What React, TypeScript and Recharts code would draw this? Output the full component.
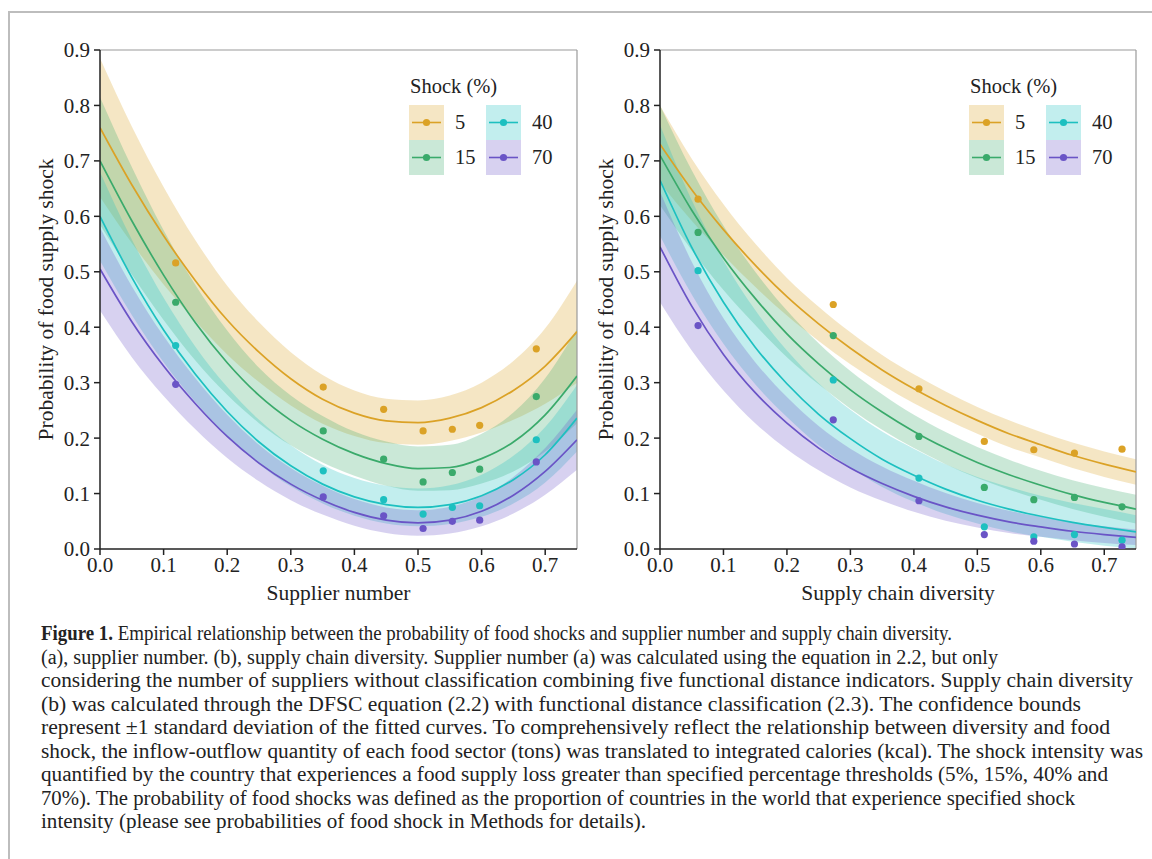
import React from "react";
import {
  ComposedChart,
  Area,
  Line,
  Scatter,
  XAxis,
  YAxis,
  ReferenceLine,
  Legend,
} from "recharts";

const SERIF = '"Liberation Serif", "Times New Roman", serif';

// shock thresholds, in legend order
const SHOCKS = ["5", "15", "40", "70"];
const COLORS = ["#dba226", "#3aaa6b", "#1dc0c0", "#6a54c6"];
const BAND_OPACITY = 0.27;

const X_TICKS = [0, 0.1, 0.2, 0.3, 0.4, 0.5, 0.6, 0.7];
const Y_TICKS = [0, 0.1, 0.2, 0.3, 0.4, 0.5, 0.6, 0.7, 0.8, 0.9];

const GRID_X = [0, 0.05, 0.1, 0.15, 0.2, 0.25, 0.3, 0.35, 0.4, 0.45, 0.5, 0.55, 0.6, 0.65, 0.7, 0.75];

// (a) supplier number: fitted curve, band upper, band lower (rows = 5, 15, 40, 70)
const SUP_FIT = [
  [0.760, 0.657, 0.565, 0.484, 0.413, 0.355, 0.307, 0.270, 0.245, 0.231, 0.228, 0.236, 0.255, 0.286, 0.330, 0.392],
  [0.700, 0.592, 0.494, 0.408, 0.336, 0.277, 0.232, 0.198, 0.172, 0.154, 0.145, 0.147, 0.163, 0.193, 0.242, 0.312],
  [0.600, 0.490, 0.395, 0.315, 0.248, 0.193, 0.150, 0.117, 0.094, 0.080, 0.075, 0.080, 0.096, 0.125, 0.170, 0.236],
  [0.505, 0.410, 0.330, 0.262, 0.203, 0.155, 0.117, 0.088, 0.066, 0.052, 0.047, 0.052, 0.068, 0.097, 0.140, 0.197],
];
const SUP_UPPER = [
  [0.885, 0.762, 0.653, 0.557, 0.475, 0.409, 0.355, 0.314, 0.286, 0.271, 0.268, 0.277, 0.300, 0.339, 0.398, 0.484],
  [0.815, 0.689, 0.575, 0.476, 0.394, 0.327, 0.277, 0.240, 0.212, 0.194, 0.185, 0.188, 0.208, 0.246, 0.308, 0.397],
  [0.680, 0.558, 0.453, 0.365, 0.292, 0.233, 0.187, 0.152, 0.128, 0.114, 0.109, 0.115, 0.134, 0.168, 0.220, 0.296],
  [0.580, 0.474, 0.384, 0.308, 0.242, 0.188, 0.146, 0.114, 0.090, 0.075, 0.070, 0.076, 0.095, 0.130, 0.182, 0.251],
];
const SUP_LOWER = [
  [0.635, 0.552, 0.477, 0.411, 0.351, 0.301, 0.259, 0.226, 0.204, 0.191, 0.188, 0.195, 0.210, 0.233, 0.262, 0.300],
  [0.585, 0.495, 0.413, 0.340, 0.278, 0.227, 0.187, 0.156, 0.132, 0.114, 0.105, 0.106, 0.118, 0.140, 0.176, 0.227],
  [0.520, 0.422, 0.337, 0.265, 0.204, 0.153, 0.113, 0.082, 0.060, 0.046, 0.041, 0.045, 0.058, 0.082, 0.120, 0.176],
  [0.430, 0.346, 0.276, 0.216, 0.164, 0.122, 0.088, 0.062, 0.042, 0.029, 0.024, 0.028, 0.041, 0.064, 0.098, 0.143],
];
const SUP_PTS_X = [0.119, 0.351, 0.446, 0.508, 0.554, 0.597, 0.686];
const SUP_PTS_Y = [
  [0.516, 0.292, 0.252, 0.213, 0.216, 0.223, 0.361],
  [0.445, 0.213, 0.162, 0.121, 0.138, 0.144, 0.275],
  [0.367, 0.141, 0.089, 0.063, 0.075, 0.078, 0.197],
  [0.297, 0.094, 0.060, 0.037, 0.050, 0.052, 0.157],
];

// (b) supply chain diversity
const DIV_FIT = [
  [0.730, 0.648, 0.576, 0.512, 0.455, 0.406, 0.362, 0.323, 0.289, 0.259, 0.232, 0.208, 0.188, 0.169, 0.153, 0.139],
  [0.710, 0.611, 0.525, 0.452, 0.388, 0.334, 0.287, 0.247, 0.212, 0.182, 0.156, 0.134, 0.115, 0.098, 0.084, 0.072],
  [0.665, 0.544, 0.445, 0.364, 0.298, 0.243, 0.199, 0.162, 0.133, 0.108, 0.088, 0.072, 0.059, 0.048, 0.039, 0.031],
  [0.545, 0.438, 0.351, 0.282, 0.227, 0.182, 0.146, 0.118, 0.095, 0.076, 0.061, 0.049, 0.040, 0.032, 0.026, 0.021],
];
const DIV_UPPER = [
  [0.800, 0.704, 0.622, 0.551, 0.489, 0.437, 0.391, 0.350, 0.315, 0.284, 0.256, 0.232, 0.211, 0.192, 0.176, 0.162],
  [0.800, 0.683, 0.583, 0.500, 0.430, 0.371, 0.321, 0.279, 0.242, 0.211, 0.184, 0.161, 0.141, 0.124, 0.110, 0.098],
  [0.765, 0.629, 0.520, 0.431, 0.358, 0.299, 0.251, 0.212, 0.181, 0.153, 0.130, 0.112, 0.096, 0.083, 0.072, 0.061],
  [0.645, 0.518, 0.416, 0.337, 0.274, 0.222, 0.181, 0.149, 0.123, 0.101, 0.083, 0.069, 0.058, 0.048, 0.041, 0.035],
];
const DIV_LOWER = [
  [0.660, 0.592, 0.530, 0.473, 0.421, 0.375, 0.333, 0.296, 0.263, 0.234, 0.208, 0.184, 0.165, 0.146, 0.130, 0.116],
  [0.620, 0.539, 0.467, 0.404, 0.346, 0.297, 0.253, 0.215, 0.182, 0.153, 0.128, 0.107, 0.089, 0.072, 0.058, 0.046],
  [0.565, 0.459, 0.370, 0.297, 0.238, 0.187, 0.147, 0.112, 0.085, 0.063, 0.046, 0.032, 0.022, 0.013, 0.006, 0.001],
  [0.445, 0.358, 0.286, 0.227, 0.180, 0.142, 0.111, 0.087, 0.067, 0.051, 0.039, 0.029, 0.022, 0.016, 0.011, 0.007],
];
const DIV_PTS_X = [0.060, 0.273, 0.408, 0.511, 0.589, 0.653, 0.728];
const DIV_PTS_Y = [
  [0.631, 0.441, 0.289, 0.194, 0.179, 0.173, 0.180],
  [0.571, 0.385, 0.203, 0.111, 0.089, 0.093, 0.076],
  [0.502, 0.305, 0.128, 0.040, 0.022, 0.026, 0.016],
  [0.403, 0.233, 0.087, 0.026, 0.014, 0.009, 0.004],
];

const CAPTION_LEAD = "Figure 1.";
const CAPTION = [
  " Empirical relationship between the probability of food shocks and supplier number and supply chain diversity.",
  "(a), supplier number. (b), supply chain diversity. Supplier number (a) was calculated using the equation in 2.2, but only",
  "considering the number of suppliers without classification combining five functional distance indicators. Supply chain diversity",
  "(b) was calculated through the DFSC equation (2.2) with functional distance classification (2.3). The confidence bounds",
  "represent \u00b11 standard deviation of the fitted curves. To comprehensively reflect the relationship between diversity and food",
  "shock, the inflow-outflow quantity of each food sector (tons) was translated to integrated calories (kcal). The shock intensity was",
  "quantified by the country that experiences a food supply loss greater than specified percentage thresholds (5%, 15%, 40% and",
  "70%). The probability of food shocks was defined as the proportion of countries in the world that experience specified shock",
  "intensity (please see probabilities of food shock in Methods for details).",
];
// right edge of each caption line in the page
const CAPTION_RIGHT = [952, 998, 1133, 1081, 1110, 1143, 1108, 1075, 646];

function buildRows(fit: number[][], upper: number[][], lower: number[][]) {
  return GRID_X.map((x, i) => {
    const row: Record<string, any> = { x };
    SHOCKS.forEach((_, s) => {
      row[`f${s}`] = fit[s][i];
      row[`b${s}`] = [lower[s][i], upper[s][i]];
    });
    return row;
  });
}

function ShockLegend() {
  return (
    <div style={{ fontFamily: SERIF, color: "#222", width: 160 }}>
      <div style={{ fontSize: 20.5, lineHeight: "22px", height: 29.5, paddingLeft: 1 }}>Shock (%)</div>
      <div style={{ display: "grid", gridTemplateColumns: "77px 70px", gridAutoRows: "35px" }}>
        {[0, 2, 1, 3].map((s) => (
          <div key={s} style={{ display: "flex", alignItems: "center" }}>
            <svg width={35} height={35} style={{ display: "block" }}>
              <rect x={0} y={0} width={35} height={35} fill={COLORS[s]} fillOpacity={BAND_OPACITY} />
              <line x1={3} x2={32} y1={17.5} y2={17.5} stroke={COLORS[s]} strokeWidth={1.6} />
              <circle cx={17.5} cy={17.5} r={3.6} fill={COLORS[s]} />
            </svg>
            <span style={{ marginLeft: 11, fontSize: 20.5 }}>{SHOCKS[s]}</span>
          </div>
        ))}
      </div>
    </div>
  );
}

interface PanelProps {
  left: number;
  xLabel: string;
  fit: number[][];
  upper: number[][];
  lower: number[][];
  ptsX: number[];
  ptsY: number[][];
  marginRight: number;
}

function Panel({ left, xLabel, fit, upper, lower, ptsX, ptsY, marginRight }: PanelProps) {
  const rows = buildRows(fit, upper, lower);
  const tick = { fill: "#222", fontSize: 21, fontFamily: SERIF };
  return (
    <div style={{ position: "absolute", left, top: 0 }}>
      <ComposedChart
        width={600}
        height={620}
        data={rows}
        margin={{ top: 50, right: marginRight, bottom: 11, left: 40 }}
      >
        <XAxis
          dataKey="x"
          type="number"
          domain={[0, 0.75]}
          ticks={X_TICKS}
          tickFormatter={(v) => v.toFixed(1)}
          tick={tick}
          tickSize={6}
          tickMargin={2}
          height={60}
          stroke="#222"
          strokeWidth={1.5}
          allowDataOverflow
          label={{
            value: xLabel,
            position: "insideBottom",
            offset: 9,
            fill: "#222",
            fontSize: 21.5,
            fontFamily: SERIF,
          }}
        />
        <YAxis
          type="number"
          domain={[0, 0.9]}
          ticks={Y_TICKS}
          tickFormatter={(v) => v.toFixed(1)}
          tick={tick}
          tickSize={6}
          tickMargin={4}
          width={60}
          stroke="#222"
          strokeWidth={1.5}
          allowDataOverflow
          label={{
            value: "Probability of food supply shock",
            angle: -90,
            position: "insideLeft",
            offset: 5,
            fill: "#222",
            fontSize: 21.5,
            fontFamily: SERIF,
            style: { textAnchor: "middle" },
          }}
        />
        <ReferenceLine y={0.9} stroke="#9a9a9a" strokeWidth={1.2} />
        <ReferenceLine x={0.75} stroke="#9a9a9a" strokeWidth={1.2} />
        {SHOCKS.map((_, s) => (
          <Area
            key={`band${s}`}
            dataKey={`b${s}`}
            type="monotone"
            stroke="none"
            fill={COLORS[s]}
            fillOpacity={BAND_OPACITY}
            isAnimationActive={false}
            activeDot={false}
          />
        ))}
        {SHOCKS.map((_, s) => (
          <Line
            key={`fit${s}`}
            dataKey={`f${s}`}
            type="monotone"
            stroke={COLORS[s]}
            strokeWidth={1.7}
            dot={false}
            activeDot={false}
            isAnimationActive={false}
          />
        ))}
        {SHOCKS.map((_, s) => (
          <Scatter
            key={`pts${s}`}
            data={ptsX.map((x, i) => ({ x, y: ptsY[s][i] }))}
            dataKey="y"
            fill={COLORS[s]}
            isAnimationActive={false}
            shape={(p: any) => <circle cx={p.cx} cy={p.cy} r={3.6} fill={COLORS[s]} />}
          />
        ))}
        <Legend
          layout="vertical"
          align="center"
          verticalAlign="middle"
          content={() => <ShockLegend />}
          wrapperStyle={{ left: 409, top: 75, width: 160, height: "auto" }}
        />
      </ComposedChart>
    </div>
  );
}

export default function App() {
  return (
    <div
      style={{
        position: "fixed",
        left: 0,
        top: 0,
        width: 1152,
        height: 859,
        overflow: "hidden",
        background: "#fff",
      }}
    >
      <div
        style={{
          position: "absolute",
          left: 7.5,
          top: 10.5,
          width: 1300,
          height: 1000,
          borderTop: "2px solid #bdbdbd",
          borderLeft: "2px solid #bdbdbd",
        }}
      />
      <Panel
        left={0}
        xLabel="Supplier number"
        fit={SUP_FIT}
        upper={SUP_UPPER}
        lower={SUP_LOWER}
        ptsX={SUP_PTS_X}
        ptsY={SUP_PTS_Y}
        marginRight={23}
      />
      <Panel
        left={560}
        xLabel="Supply chain diversity"
        fit={DIV_FIT}
        upper={DIV_UPPER}
        lower={DIV_LOWER}
        ptsX={DIV_PTS_X}
        ptsY={DIV_PTS_Y}
        marginRight={24}
      />
      <svg
        width={1152}
        height={250}
        style={{ position: "absolute", left: 0, top: 610 }}
        fontFamily={SERIF}
        fontSize={20}
        fill="#222"
      >
        {CAPTION.map((line, i) => (
          <text
            key={i}
            x={41}
            y={30 + i * 23.5}
            textLength={CAPTION_RIGHT[i] - 41}
            lengthAdjust="spacingAndGlyphs"
          >
            {i === 0 && <tspan fontWeight="bold">{CAPTION_LEAD}</tspan>}
            {line}
          </text>
        ))}
      </svg>
    </div>
  );
}
